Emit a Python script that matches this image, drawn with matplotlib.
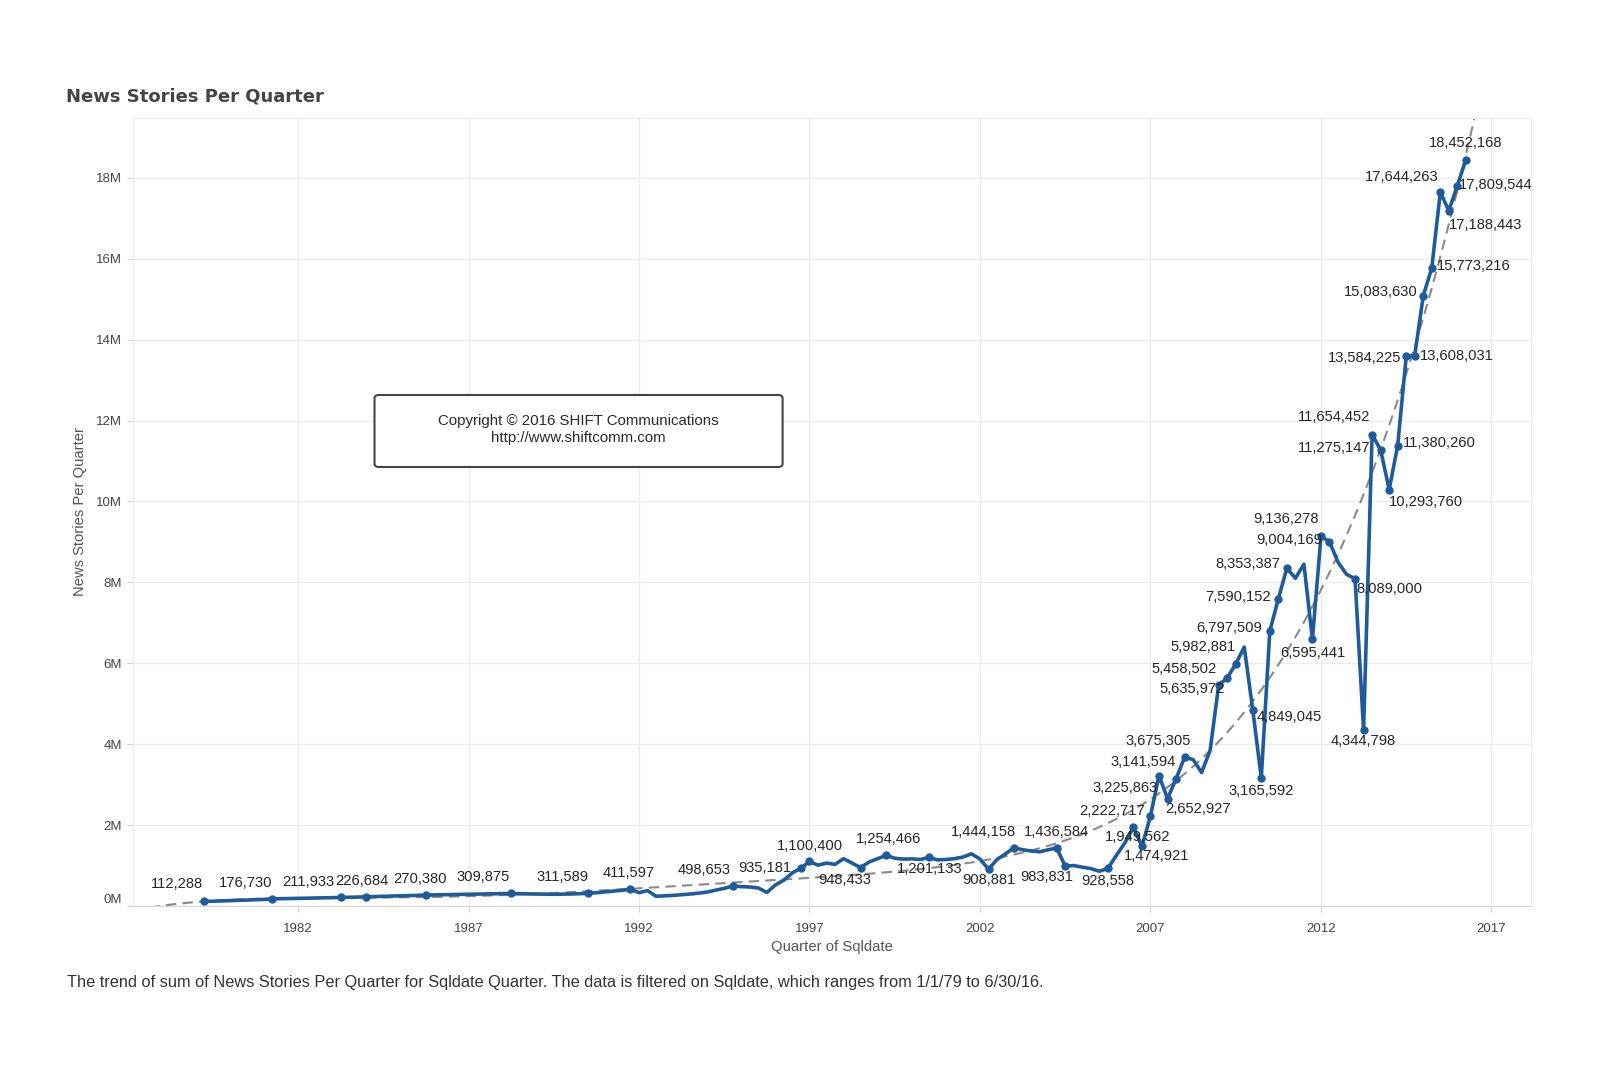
import matplotlib
matplotlib.use('Agg')
import matplotlib.pyplot as plt
from matplotlib.patches import FancyBboxPatch
from matplotlib.ticker import FuncFormatter
import numpy as np
import pandas as pd
from numpy.polynomial import Polynomial

plt.rcParams['font.family'] = ['Liberation Sans', 'DejaVu Sans']

# ---------------- data ----------------
first_quarter = '1979Q2'
last_quarter = '2016Q2'

stories = [
    112288, 118000, 125000, 133000, 140000, 148000, 155000, 163000,          # 1979Q2-1981Q1
    176730, 180000, 184000, 189000, 193000, 197000, 202000, 206000,          # 1981Q2-1983Q1
    211933, 216000, 221000, 226684, 233000, 240000, 246000, 252000,          # 1983Q2-1985Q1
    258000, 264000, 270380, 275000, 279000, 284000, 289000, 293000,          # 1985Q2-1987Q1
    297000, 301000, 304000, 307000, 309875, 304000, 299000, 295000,          # 1987Q2-1989Q1
    291000, 289000, 292000, 297000, 304000, 311589, 328000, 348000,          # 1989Q2-1991Q1
    370000, 389000, 411597, 330000, 380000, 240000, 250000, 262000,          # 1991Q2-1993Q1
    278000, 296000, 318000, 345000, 392000, 436000, 498653, 478000,          # 1993Q2-1995Q1
    470000, 445000, 335000, 520000, 640000, 820000, 935181, 1100400,         # 1995Q2-1997Q1
    1010000, 1060000, 1030000, 1170000, 1060000, 948433, 1090000, 1170000,   # 1997Q2-1999Q1
    1254466, 1180000, 1160000, 1165000, 1150000, 1201133, 1140000, 1150000,  # 1999Q2-2001Q1
    1170000, 1210000, 1290000, 1160000, 908881, 1150000, 1290000, 1444158,   # 2001Q2-2003Q1
    1390000, 1360000, 1340000, 1390000, 1436584, 983831, 1000000, 960000,    # 2003Q2-2005Q1
    925000, 860000, 928558, 1250000, 1560000, 1949562, 1474921, 2222717,     # 2005Q2-2007Q1
    3225863, 2652927, 3141594, 3675305, 3620000, 3300000, 3850000, 5458502,  # 2007Q2-2009Q1
    5635972, 5982881, 6400000, 4849045, 3165592, 6797509, 7590152, 8353387,  # 2009Q2-2011Q1
    8100000, 8450000, 6595441, 9136278, 9004169, 8500000, 8200000, 8089000,  # 2011Q2-2013Q1
    4344798, 11654452, 11275147, 10293760, 11380260, 13584225, 13608031, 15083630,  # 2013Q2-2015Q1
    15773216, 17644263, 17188443, 17809544, 18452168,                        # 2015Q2-2016Q2
]

labeled_values = [
    112288, 176730, 211933, 226684, 270380, 309875, 311589, 411597, 498653,
    935181, 1100400, 948433, 1254466, 1201133, 908881, 1444158, 1436584,
    983831, 928558, 1949562, 1474921, 2222717, 3225863, 2652927, 3141594,
    3675305, 5458502, 5635972, 5982881, 4849045, 3165592, 6797509, 7590152,
    8353387, 6595441, 9136278, 9004169, 8089000, 4344798, 11654452,
    11275147, 10293760, 11380260, 13584225, 13608031, 15083630, 15773216,
    17644263, 17188443, 17809544, 18452168,
]

# trend line (decimal year, millions) - used to pick the fit degree
trend_ref_years = [1992.5, 1996.0, 1999.0, 2002.5, 2005.2, 2006.8, 2008.5, 2009.9,
                   2010.8, 2011.8, 2012.5, 2013.35, 2014.1, 2015.0, 2015.7, 2016.43]
trend_ref_millions = [0.5, 0.62, 0.9, 1.16, 1.83, 2.7, 3.7, 5.0,
                      5.8, 7.3, 8.6, 10.4, 12.8, 15.06, 17.0, 19.5]

x_tick_years = [1982, 1987, 1992, 1997, 2002, 2007, 2012, 2017]
y_tick_millions = [0, 2, 4, 6, 8, 10, 12, 14, 16, 18]

title = 'News Stories Per Quarter'
x_title = 'Quarter of Sqldate'
y_title = 'News Stories Per Quarter'
footer = ('The trend of sum of News Stories Per Quarter for Sqldate Quarter. '
          'The data is filtered on Sqldate, which ranges from 1/1/79 to 6/30/16.')
copyright_lines = ['Copyright \u00a9 2016 SHIFT Communications', 'http://www.shiftcomm.com']

# label placement (pixel offsets from the mark; dy positive = downward)
label_offsets = {
    112288: (-27, -17), 176730: (-27, -16), 211933: (-32, -15), 226684: (-4, -16),
    270380: (-6, -16), 309875: (-28, -16), 311589: (-25, -16), 411597: (-2, -16),
    498653: (-29, -16), 935181: (-36, 0), 1100400: (0, -15), 948433: (-16, 12),
    1254466: (2, -16), 1201133: (1, 12), 908881: (0, 11), 1444158: (-31, -16),
    1436584: (0, -16), 983831: (-18, 11), 928558: (0, 13), 1949562: (4, 10),
    1474921: (15, 10), 2222717: (-38, -5), 3225863: (-34, 12), 2652927: (31, 10),
    3141594: (-33, -17), 3675305: (-26, -16), 5458502: (-35, -16), 5635972: (-35, 11),
    5982881: (-33, -17), 4849045: (36, 7), 3165592: (0, 13), 6797509: (-41, -3),
    7590152: (-40, -2), 8353387: (-39, -4), 6595441: (0, 14), 9136278: (-35, -17),
    9004169: (-40, -2), 8089000: (34, 10), 4344798: (0, 11), 11654452: (-38, -18),
    11275147: (-46, -2), 10293760: (37, 12), 11380260: (42, -3), 13584225: (-42, 2),
    13608031: (42, 0), 15083630: (-43, -4), 15773216: (42, -2), 17644263: (-39, -15),
    17188443: (37, 14), 17809544: (38, -1), 18452168: (0, -17),
}

# ---------------- figure ----------------
W, H = 1600, 1074
fig = plt.figure(figsize=(W / 100, H / 100), dpi=100)
fig.patch.set_facecolor('white')

ax_left, ax_right, ax_top, ax_bottom = 133, 1531, 118, 906
ax = fig.add_axes([ax_left / W, 1 - ax_bottom / H, (ax_right - ax_left) / W,
                   (ax_bottom - ax_top) / H])

periods = pd.period_range(first_quarter, last_quarter, freq='Q')
xq = np.asarray(periods.year + (periods.quarter - 1) / 4.0, dtype=float)
yv = np.asarray(stories, dtype=float)

x0, x1 = 1977.16, 2018.16
ax.set_xlim(x0, x1)
ax.set_ylim(0, 19.48e6)

# trend line: polynomial fit of the data; degree chosen to best match the picture
ref_x = np.asarray(trend_ref_years)
ref_y = np.asarray(trend_ref_millions) * 1e6
best = None
for deg in range(2, 9):
    p = Polynomial.fit(xq, yv, deg)
    err = float(np.sum((p(ref_x) - ref_y) ** 2))
    if best is None or err < best[0]:
        best = (err, p)
trend = best[1]
xt = np.linspace(x0, x1, 600)
ax.plot(xt, trend(xt), color='#8a8a8a', lw=1.5, ls=(0, (5, 3)), zorder=2)

line_color = '#1f5b98'
ax.plot(xq, yv, color=line_color, lw=2.6, zorder=3, solid_joinstyle='round')

idx = [stories.index(v) for v in labeled_values]
ax.plot(xq[idx], yv[idx], 'o', color=line_color, ms=5, zorder=4)

for v, i in zip(labeled_values, idx):
    dx, dy = label_offsets[v]
    ax.annotate(f'{v:,}', (xq[i], yv[i]), xytext=(dx, -dy), textcoords='offset pixels',
                ha='center', va='center', fontsize=10.6, color='#262626', zorder=5)

ax.set_xticks(x_tick_years)
ax.set_xticklabels([str(y) for y in x_tick_years])
ax.set_yticks([m * 1e6 for m in y_tick_millions])
ax.yaxis.set_major_formatter(FuncFormatter(lambda v, p: f'{v / 1e6:.0f}M'))
ax.tick_params(axis='both', labelsize=9.5, colors='#cfcfcf', labelcolor='#444444',
               length=4, width=0.8)
ax.tick_params(axis='y', pad=4)
ax.tick_params(axis='x', pad=8)
ax.get_yticklabels()[0].set_va('bottom')

ax.grid(True, color='#ececec', lw=1.0, zorder=0)
ax.set_axisbelow(True)
for s in ['top', 'right', 'left']:
    ax.spines[s].set_color('#ececec')
ax.spines['bottom'].set_color('#d6d6d6')

# texts
fig.text(66 / W, 1 - 97 / H, title, fontsize=13, fontweight='bold', color='#444444',
         ha='left', va='center', family=['DejaVu Sans'])
fig.text(832 / W, 1 - 947 / H, x_title, fontsize=10.7, color='#555555', ha='center', va='center')
fig.text(80 / W, 1 - 512 / H, y_title, fontsize=10.6, color='#555555', ha='center', va='center',
         rotation=90)
fig.text(67 / W, 1 - 982 / H, footer, fontsize=11.8, color='#333333', ha='left', va='center')

# copyright box
bx0, by0, bx1, by1 = 374.5, 395, 782.6, 467
box = FancyBboxPatch((bx0 / W, 1 - by1 / H), (bx1 - bx0) / W, (by1 - by0) / H,
                     boxstyle='round,pad=0,rounding_size=0.003', transform=fig.transFigure,
                     facecolor='white', edgecolor='#444444', lw=1.5, zorder=5)
fig.add_artist(box)
fig.text(578 / W, 1 - 421 / H, copyright_lines[0], fontsize=10.8, color='#2a2a2a',
         ha='center', va='center', zorder=6)
fig.text(578 / W, 1 - 438 / H, copyright_lines[1], fontsize=10.8, color='#2a2a2a',
         ha='center', va='center', zorder=6)

fig.savefig('out.png', dpi=100, facecolor='white')
